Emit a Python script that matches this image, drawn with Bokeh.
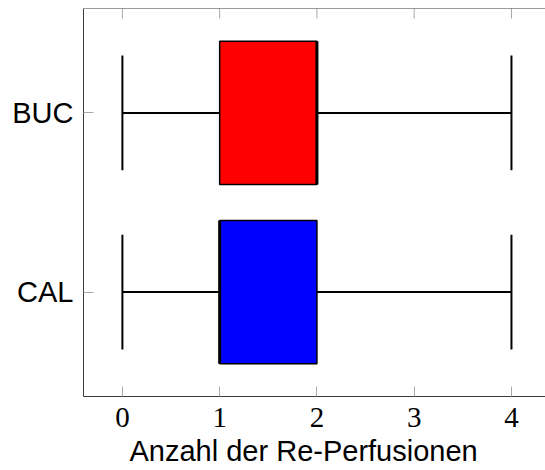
import math
from bokeh.plotting import figure
from bokeh.models import Range1d, FixedTicker, ColumnDataSource, Span, Title
from bokeh.embed import file_html
from bokeh.resources import INLINE

# Box plot summary per group (number of re-perfusions)
groups = ["CAL", "BUC"]
positions = [1, 2]
lower_whisker = [0, 0]
q1 = [1, 1]
median = [1, 2]
q3 = [2, 2]
upper_whisker = [4, 4]
box_colors = ["#0000ff", "#ff0000"]
x_ticks = [0, 1, 2, 3, 4]
x_title = "Anzahl der Re-Perfusionen"

BOX_H = 0.8
CAP_H = 0.64

src = ColumnDataSource(dict(
    pos=positions,
    lw=lower_whisker,
    q1=q1,
    med=median,
    q3=q3,
    uw=upper_whisker,
    color=box_colors,
    box_lo=[y - BOX_H / 2 for y in positions],
    box_hi=[y + BOX_H / 2 for y in positions],
    cap_lo=[y - CAP_H / 2 for y in positions],
    cap_hi=[y + CAP_H / 2 for y in positions],
))

FRAME = "#3c3c3c"
TICK = "#a8a8a8"

x_range = Range1d(-0.4, 4.35)
y_range = Range1d(0.417, 2.583)

p = figure(
    width=545, height=470,
    x_range=x_range, y_range=y_range,
    output_backend="svg", toolbar_location=None,
    min_border_left=83, min_border_top=8, min_border_right=0, min_border_bottom=0,
)
p.outline_line_color = None
p.grid.visible = False
p.background_fill_color = "white"
p.border_fill_color = "white"

# whiskers
p.segment(x0="lw", y0="pos", x1="q1", y1="pos", source=src, line_color="black", line_width=2)
p.segment(x0="q3", y0="pos", x1="uw", y1="pos", source=src, line_color="black", line_width=2)
p.segment(x0="lw", y0="cap_lo", x1="lw", y1="cap_hi", source=src, line_color="black", line_width=2)
p.segment(x0="uw", y0="cap_lo", x1="uw", y1="cap_hi", source=src, line_color="black", line_width=2)
# boxes
p.hbar(y="pos", left="q1", right="q3", height=BOX_H, source=src,
       fill_color="color", line_color="black", line_width=1.5)
# medians
p.segment(x0="med", y0="box_lo", x1="med", y1="box_hi", source=src, line_color="black", line_width=3)

# top frame edge with inward ticks (marks are clipped to the frame, so only the inner half shows)
p.add_layout(Span(location=y_range.end, dimension="width", line_color=FRAME, line_width=1))
p.scatter(x=x_ticks, y=[y_range.end] * len(x_ticks), marker="dash", angle=math.pi / 2,
          size=20, line_color=TICK, line_width=1)

# bottom axis
xa = p.xaxis[0]
xa.ticker = FixedTicker(ticks=x_ticks)
xa.major_label_text_font = "Liberation Serif"
xa.major_label_text_font_size = "29px"
xa.major_label_text_color = "black"
xa.major_label_standoff = 11
xa.axis_line_color = FRAME
xa.major_tick_in = 10
xa.major_tick_out = 0
xa.major_tick_line_color = TICK
xa.minor_tick_line_color = None

# axis title under the tick labels
p.add_layout(Title(text=x_title, align="left", offset=46, standoff=7,
                   text_font="Liberation Sans", text_font_size="29px",
                   text_font_style="normal", text_color="black"), "below")

# left axis
ya = p.yaxis[0]
ya.ticker = FixedTicker(ticks=positions)
ya.major_label_overrides = {pos: name for pos, name in zip(positions, groups)}
ya.major_label_text_font = "Liberation Sans"
ya.major_label_text_font_size = "29px"
ya.major_label_text_color = "black"
ya.major_label_standoff = 10
ya.axis_line_color = FRAME
ya.major_tick_in = 10
ya.major_tick_out = 0
ya.major_tick_line_color = TICK
ya.minor_tick_line_color = None

open("out.html", "w").write(file_html(p, INLINE))
